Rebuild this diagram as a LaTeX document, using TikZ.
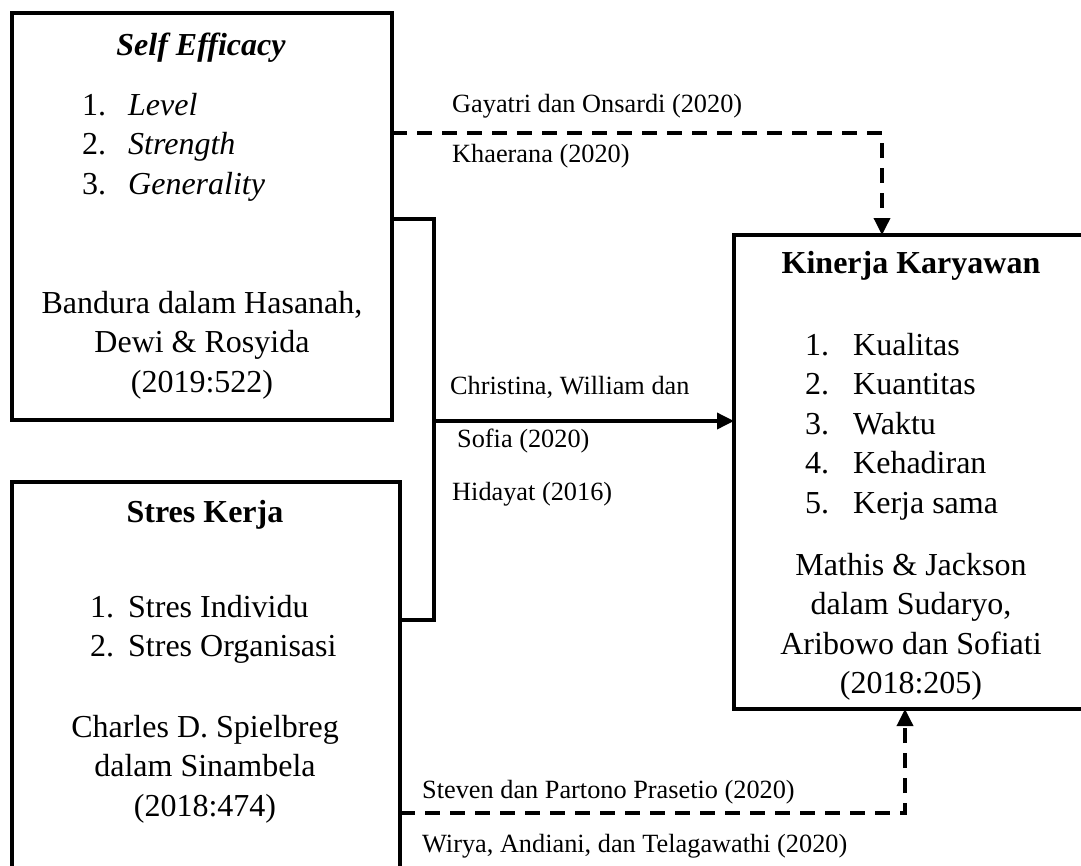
\documentclass[tikz,border=0pt]{standalone}
\usepackage{fontspec}
\setmainfont{Liberation Serif}
\usetikzlibrary{positioning,arrows.meta,calc}
\tikzset{>={Triangle[length=17pt,width=16pt]}}
\newcommand{\boxfont}{\fontsize{32}{39.5}\selectfont}
\newcommand{\lblfont}{\fontsize{26.3}{30}\selectfont}

\begin{document}
\begin{tikzpicture}[x=1pt, y=-1pt,
    box/.style = {draw, line width=4pt, rectangle, inner sep=0pt, outer sep=0pt, anchor=north west},
    txt/.style = {anchor=base, inner sep=0pt, font=\boxfont},
    lst/.style = {anchor=base west, inner sep=0pt, font=\boxfont},
    lbl/.style = {anchor=base west, inner sep=0pt, font=\lblfont},
    conn/.style = {line width=3.5pt},
    dashline/.style = {conn, dash pattern=on 15pt off 10pt}]
        \useasboundingbox (0,0) rectangle (1081,865);

        % variable boxes
        \node[box, minimum width=380pt, minimum height=407pt] (se) at (12,13) {};
        \node[box, minimum width=388pt, minimum height=420pt] (sk) at (12,482) {};
        \node[box, minimum width=370pt, minimum height=474pt] (kk) at (734,235) {};

        \node[txt] (se-title) at (201,55) {\textbf{\textit{Self Efficacy}}};
        \node[lst] (se-list) at (82,115) {\begin{tabular}[t]{@{}l@{\hspace{22pt}}l@{}}
            1.&\textit{Level}\\2.&\textit{Strength}\\3.&\textit{Generality}\end{tabular}};
        \node[txt] (se-src) at (202,313) {\begin{tabular}[t]{@{}c@{}}
            Bandura dalam Hasanah,\\Dewi \& Rosyida\\(2019:522)\end{tabular}};

        \node[txt] (sk-title) at (205,522) {\textbf{Stres Kerja}};
        \node[lst] (sk-list) at (90,617) {\begin{tabular}[t]{@{}l@{\hspace{14pt}}l@{}}
            1.&Stres Individu\\2.&Stres Organisasi\end{tabular}};
        \node[txt] (sk-src) at (205,737) {\begin{tabular}[t]{@{}c@{}}
            Charles D. Spielbreg\\dalam Sinambela\\(2018:474)\end{tabular}};

        \node[txt] (kk-title) at (911,273) {\textbf{Kinerja Karyawan}};
        \node[lst] (kk-list) at (805,355) {\begin{tabular}[t]{@{}l@{\hspace{24pt}}l@{}}
            1.&Kualitas\\2.&Kuantitas\\3.&Waktu\\4.&Kehadiran\\5.&Kerja sama\end{tabular}};
        \node[txt] (kk-src) at (911,575) {\begin{tabular}[t]{@{}c@{}}
            Mathis \& Jackson\\dalam Sudaryo,\\Aribowo dan Sofiati\\(2018:205)\end{tabular}};

        % references on the connectors
        \node[lbl] (l1) at (452,112) {Gayatri dan Onsardi (2020)};
        \node[lbl] (l2) at (452,162) {Khaerana (2020)};
        \node[lbl] (l3) at (450,394) {Christina, William dan};
        \node[lbl] (l4) at (457,447) {Sofia (2020)};
        \node[lbl] (l5) at (452,500) {Hidayat (2016)};
        \node[lbl] (l6) at (422,798) {Steven dan Partono Prasetio (2020)};
        \node[lbl] (l7) at (422,852) {Wirya, Andiani, dan Telagawathi (2020)};

        \coordinate (t1) at (882,133);
        \coordinate (b1) at (434,219);
        \coordinate (b2) at (434,620);
        \coordinate (bm) at (434,421);
        \coordinate (t2) at (905,813);

        \draw[dashline,->] (se.east |- t1) -- (t1) -- (kk.north -| t1);
        \draw[conn] (se.east |- b1) -- (b1) -- (b2) -- (sk.east |- b2);
        \draw[conn,->] (bm) -- (kk.west |- bm);
        \draw[dashline,->] (sk.east |- t2) -- (t2) -- (kk.south -| t2);
      \end{tikzpicture}
\end{document}
